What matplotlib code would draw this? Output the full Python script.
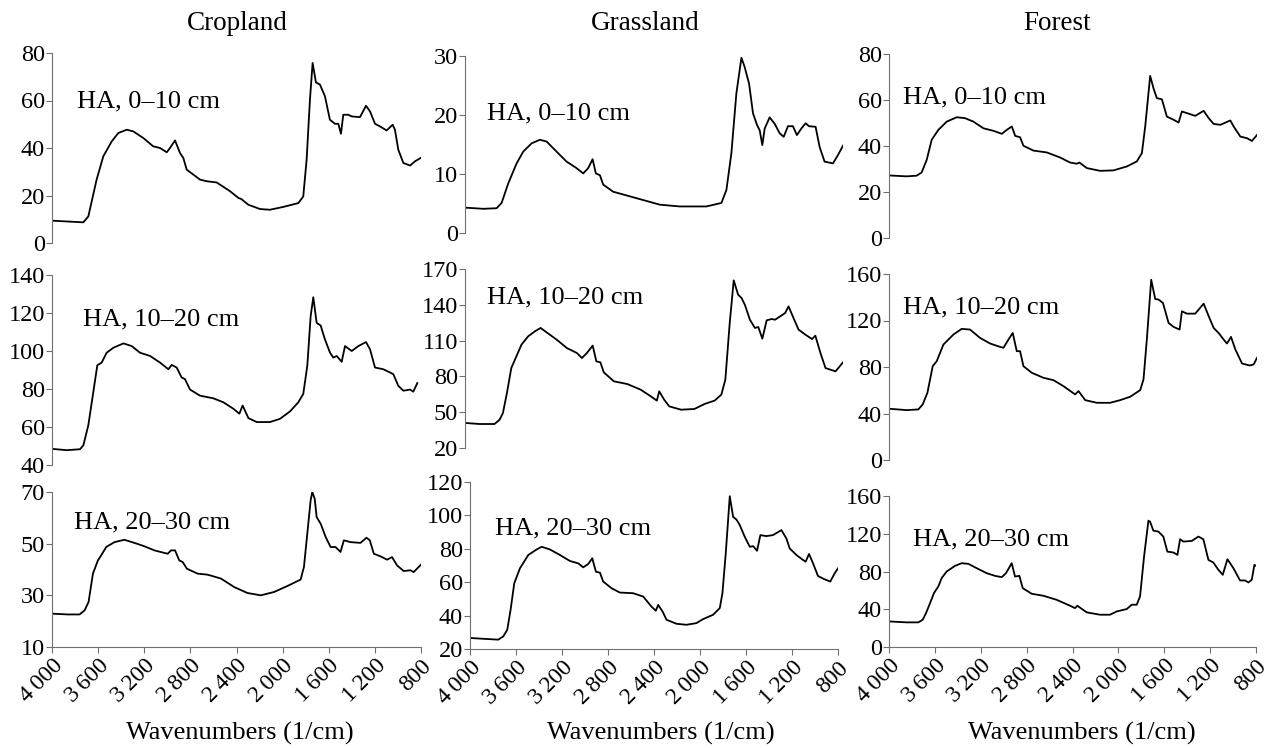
import matplotlib
matplotlib.use("Agg")
import matplotlib.pyplot as plt

plt.rcParams['font.family'] = ['Liberation Serif', 'DejaVu Serif']

# FTIR spectra of humic acids (wavenumber in 1/cm, intensity)
crop_0_10_wn = [4000, 3728, 3685, 3613, 3555, 3482, 3425, 3352, 3295, 3208,
                3122, 3063, 3005, 2977, 2933, 2890, 2861, 2832, 2717, 2659,
                2572, 2456, 2384, 2358, 2297, 2196, 2110, 1994, 1864, 1821,
                1792, 1763, 1740, 1711, 1676, 1633, 1590, 1546, 1517, 1494,
                1474, 1431, 1401, 1329, 1277, 1242, 1199, 1156, 1098, 1046,
                1026, 997, 953, 895, 852, 803]
crop_0_10 = [9.4, 8.7, 11.2, 26.7, 36.5, 42.8, 46.3, 47.7, 47.0, 44.2,
             40.7, 40.0, 38.2, 40.0, 43.2, 37.9, 35.8, 30.9, 26.7, 26.0,
             25.5, 21.8, 19.0, 18.5, 16.1, 14.3, 14.0, 15.2, 16.8, 19.6,
             35.0, 60.4, 75.8, 67.6, 66.7, 61.8, 51.9, 50.2, 50.2, 46.0,
             54.0, 54.0, 53.3, 53.0, 57.8, 55.4, 50.2, 49.1, 47.4, 49.8,
             47.7, 39.3, 33.7, 32.6, 34.4, 35.8]

crop_10_20_wn = [4000, 3873, 3757, 3728, 3685, 3642, 3607, 3569, 3526, 3468,
                 3381, 3309, 3237, 3150, 3063, 2991, 2962, 2919, 2876, 2847,
                 2803, 2717, 2601, 2514, 2427, 2375, 2347, 2297, 2225, 2110,
                 2023, 1936, 1864, 1821, 1786, 1757, 1734, 1705, 1670, 1633,
                 1589, 1560, 1531, 1488, 1459, 1401, 1343, 1277, 1242, 1199,
                 1127, 1069, 1040, 997, 953, 895, 867, 832]
crop_10_20 = [48.5, 47.8, 48.3, 50.4, 60.9, 78.3, 92.5, 93.9, 99.1, 101.7,
              104.0, 102.6, 99.1, 97.4, 93.9, 90.4, 92.7, 91.3, 86.1, 85.2,
              79.7, 76.5, 75.1, 73.0, 69.6, 67.0, 71.3, 64.7, 62.6, 62.6,
              64.3, 68.2, 73.0, 77.4, 92.2, 118.3, 128.3, 114.8, 113.4, 106.1,
              99.1, 96.5, 97.4, 94.3, 102.6, 100.0, 102.6, 104.7, 100.9, 91.3,
              90.4, 88.7, 87.8, 81.7, 79.1, 79.7, 78.6, 83.1]

crop_20_30_wn = [4000, 3862, 3761, 3717, 3683, 3645, 3602, 3573, 3530, 3458,
                 3372, 3285, 3199, 3112, 2997, 2968, 2933, 2896, 2867, 2830,
                 2737, 2651, 2535, 2420, 2305, 2189, 2074, 1959, 1844, 1815,
                 1786, 1757, 1743, 1722, 1705, 1670, 1627, 1584, 1541, 1498,
                 1469, 1411, 1325, 1273, 1244, 1209, 1152, 1094, 1051, 1008,
                 950, 892, 863, 800]
crop_20_30 = [22.9, 22.6, 22.6, 24.2, 27.4, 38.4, 43.5, 45.5, 48.7, 50.6,
              51.5, 50.3, 49.0, 47.4, 46.1, 47.4, 47.4, 43.5, 42.9, 40.3,
              38.4, 38.0, 36.5, 33.2, 30.9, 30.0, 31.3, 33.6, 36.1, 41.0,
              53.9, 66.8, 70.0, 67.4, 60.3, 57.7, 52.6, 48.7, 48.7, 46.8,
              51.3, 50.6, 50.3, 52.3, 51.3, 46.1, 45.1, 43.8, 44.8, 41.6,
              39.4, 39.7, 39.0, 41.9]

grass_0_10_wn = [4000, 3845, 3732, 3690, 3634, 3563, 3507, 3436, 3366, 3309,
                 3225, 3140, 3056, 2999, 2957, 2920, 2892, 2858, 2830, 2746,
                 2548, 2351, 2182, 1956, 1829, 1787, 1745, 1703, 1660, 1632,
                 1595, 1562, 1528, 1505, 1483, 1463, 1421, 1378, 1336, 1302,
                 1266, 1224, 1190, 1153, 1116, 1088, 1032, 998, 956, 885,
                 843, 800]
grass_0_10 = [4.3, 4.1, 4.2, 5.1, 8.4, 11.8, 13.8, 15.2, 15.8, 15.5,
              13.8, 12.1, 11.0, 10.1, 11.0, 12.5, 10.1, 9.8, 8.2, 7.0,
              5.9, 4.8, 4.5, 4.5, 5.1, 7.3, 13.5, 23.6, 29.7, 28.1,
              25.3, 20.3, 18.3, 17.4, 14.9, 17.7, 19.6, 18.5, 16.9, 16.3,
              18.1, 18.1, 16.6, 17.7, 18.6, 18.1, 18.0, 14.6, 12.1, 11.8,
              13.2, 14.8]

grass_10_20_wn = [4000, 3878, 3750, 3707, 3679, 3645, 3608, 3565, 3522, 3465,
                  3408, 3360, 3309, 3224, 3138, 3053, 3010, 2968, 2919, 2888,
                  2854, 2825, 2740, 2626, 2513, 2427, 2376, 2356, 2314, 2271,
                  2171, 2058, 1972, 1887, 1830, 1796, 1759, 1725, 1688, 1659,
                  1631, 1588, 1546, 1517, 1483, 1446, 1404, 1375, 1332, 1290,
                  1261, 1219, 1176, 1119, 1062, 1034, 991, 948, 906, 863,
                  800]
grass_10_20 = [41.0, 40.1, 40.1, 43.7, 49.3, 66.1, 87.0, 96.8, 106.6, 113.6,
               117.8, 120.6, 116.9, 110.8, 103.8, 99.6, 95.4, 99.6, 105.8, 92.6,
               91.8, 83.4, 75.9, 73.6, 68.9, 63.3, 59.7, 67.5, 60.5, 54.9,
               52.1, 52.7, 56.9, 59.7, 64.7, 77.3, 124.7, 160.5, 148.5, 145.7,
               140.1, 127.5, 120.6, 121.4, 111.6, 127.0, 128.1, 127.5, 130.3, 133.1,
               138.7, 128.9, 119.2, 115.0, 111.3, 114.1, 99.6, 87.0, 85.6, 84.2,
               91.8]

grass_20_30_wn = [4000, 3855, 3754, 3710, 3676, 3647, 3615, 3566, 3493, 3421,
                  3377, 3305, 3218, 3131, 3059, 3015, 2972, 2937, 2905, 2870,
                  2842, 2769, 2697, 2581, 2494, 2422, 2384, 2364, 2326, 2291,
                  2204, 2118, 2031, 1973, 1886, 1828, 1805, 1776, 1741, 1712,
                  1683, 1654, 1611, 1567, 1538, 1504, 1475, 1423, 1365, 1292,
                  1249, 1220, 1162, 1104, 1081, 1052, 1017, 974, 916, 867,
                  829, 800]
grass_20_30 = [26.6, 26.0, 25.6, 27.6, 31.5, 43.5, 59.4, 68.3, 76.3, 79.6,
               81.2, 79.6, 76.3, 72.7, 71.3, 68.9, 70.9, 74.3, 66.3, 65.7,
               60.4, 56.4, 53.8, 53.4, 51.4, 45.4, 42.9, 46.4, 42.5, 37.5,
               35.1, 34.5, 35.5, 37.9, 40.5, 44.5, 53.4, 77.3, 111.5, 99.1,
               97.5, 94.2, 87.2, 81.2, 81.6, 78.8, 88.2, 87.6, 88.2, 91.2,
               86.2, 80.2, 76.3, 73.3, 72.3, 76.9, 71.3, 63.7, 61.7, 60.4,
               65.3, 68.3]

forest_0_10_wn = [4000, 3846, 3759, 3716, 3672, 3629, 3571, 3498, 3411, 3339,
                  3266, 3179, 3092, 3019, 2976, 2932, 2903, 2860, 2831, 2744,
                  2628, 2512, 2425, 2367, 2344, 2280, 2164, 2048, 1932, 1845,
                  1801, 1772, 1729, 1700, 1671, 1627, 1584, 1525, 1482, 1453,
                  1409, 1337, 1264, 1220, 1177, 1119, 1032, 1003, 945, 887,
                  844, 800]
forest_0_10 = [27.2, 26.8, 27.1, 28.5, 34.0, 42.7, 47.0, 50.6, 52.5, 52.1,
               50.6, 47.7, 46.6, 45.3, 47.0, 48.5, 44.4, 43.8, 40.1, 38.0,
               37.2, 35.0, 32.8, 32.3, 32.8, 30.4, 29.2, 29.4, 31.1, 33.3,
               36.9, 48.5, 70.5, 65.1, 60.8, 60.3, 52.8, 51.4, 50.2, 55.0,
               54.3, 53.1, 55.3, 52.1, 49.6, 49.2, 51.1, 48.5, 44.1, 43.4,
               42.2, 44.8]

forest_10_20_wn = [4000, 3846, 3745, 3707, 3666, 3620, 3585, 3527, 3440, 3368,
                   3295, 3208, 3121, 3034, 3005, 2961, 2924, 2889, 2860, 2831,
                   2758, 2657, 2570, 2483, 2381, 2352, 2294, 2193, 2077, 1990,
                   1903, 1816, 1787, 1758, 1720, 1685, 1656, 1618, 1569, 1525,
                   1473, 1453, 1409, 1337, 1264, 1220, 1177, 1134, 1090, 1061,
                   1026, 988, 930, 864, 829, 800]
forest_10_20 = [44.1, 42.9, 43.5, 47.8, 57.8, 80.7, 85.0, 99.3, 107.9, 112.8,
                112.2, 105.0, 100.2, 97.3, 96.5, 103.6, 109.3, 93.6, 93.6, 80.7,
                75.0, 70.7, 68.7, 63.5, 56.4, 59.3, 51.5, 49.2, 49.2, 51.5,
                54.4, 60.1, 69.3, 103.6, 155.1, 138.5, 138.0, 135.1, 117.9, 114.5,
                112.2, 127.9, 125.9, 125.9, 134.5, 123.7, 113.6, 109.3, 103.6, 100.2,
                105.9, 95.0, 83.0, 81.3, 82.2, 87.9]

forest_20_30_wn = [4000, 3846, 3744, 3706, 3677, 3642, 3608, 3570, 3541, 3497,
                   3424, 3366, 3308, 3235, 3148, 3076, 3017, 2980, 2930, 2901,
                   2863, 2834, 2756, 2654, 2538, 2421, 2378, 2358, 2276, 2160,
                   2073, 2014, 1927, 1884, 1840, 1811, 1776, 1738, 1724, 1695,
                   1651, 1608, 1573, 1520, 1485, 1462, 1433, 1360, 1302, 1259,
                   1215, 1172, 1128, 1090, 1049, 997, 939, 895, 866, 837,
                   814, 800]
forest_20_30 = [27.1, 26.1, 26.1, 28.9, 36.0, 46.5, 57.1, 64.1, 73.0, 80.0,
                86.0, 88.8, 88.1, 83.5, 78.2, 75.4, 74.0, 78.2, 88.8, 74.7,
                75.4, 62.4, 56.4, 54.3, 50.0, 43.7, 41.2, 43.7, 36.7, 34.2,
                34.2, 37.7, 40.2, 44.8, 44.8, 53.6, 95.9, 133.9, 132.9, 123.3,
                122.3, 117.0, 101.1, 100.1, 97.6, 114.2, 111.7, 112.4, 117.0, 114.2,
                92.3, 89.5, 81.8, 76.5, 93.0, 83.5, 70.5, 70.5, 68.4, 71.2,
                87.0, 86.0]

land_uses = ['Cropland', 'Grassland', 'Forest']
depths = ['HA, 0\u201310 cm', 'HA, 10\u201320 cm', 'HA, 20\u201330 cm']
x_ticks = [4000, 3600, 3200, 2800, 2400, 2000, 1600, 1200, 800]
x_tick_labels = ['4\u2009000', '3\u2009600', '3\u2009200', '2\u2009800', '2\u2009400',
                 '2\u2009000', '1\u2009600', '1\u2009200', '800']

spectra = [
    [(crop_0_10_wn, crop_0_10), (grass_0_10_wn, grass_0_10), (forest_0_10_wn, forest_0_10)],
    [(crop_10_20_wn, crop_10_20), (grass_10_20_wn, grass_10_20), (forest_10_20_wn, forest_10_20)],
    [(crop_20_30_wn, crop_20_30), (grass_20_30_wn, grass_20_30), (forest_20_30_wn, forest_20_30)],
]
y_ticks = [
    [[0, 20, 40, 60, 80], [0, 10, 20, 30], [0, 20, 40, 60, 80]],
    [[40, 60, 80, 100, 120, 140], [20, 50, 80, 110, 140, 170], [0, 40, 80, 120, 160]],
    [[10, 30, 50, 70], [20, 40, 60, 80, 100, 120], [0, 40, 80, 120, 160]],
]

# axes boxes in pixels: left, right, top, bottom
boxes = [
    [(52, 421, 53, 243), (465, 843, 56, 233), (889, 1257, 54, 238)],
    [(52, 421, 275, 465), (465, 843, 269, 448), (889, 1257, 274, 460)],
    [(52, 421, 492, 647), (470, 838, 482, 649), (889, 1256, 496, 647)],
]
# label position inside each axes (axes fraction)
label_pos = [
    [(0.068, 0.747), (0.057, 0.678), (0.038, 0.764)],
    [(0.084, 0.768), (0.057, 0.841), (0.038, 0.820)],
    [(0.060, 0.803), (0.068, 0.719), (0.065, 0.715)],
]

W, H = 1267, 748
fig = plt.figure(figsize=(W / 100, H / 100), dpi=100)
spine_col = '#707070'

for r in range(3):
    for c in range(3):
        l, rt, t, b = boxes[r][c]
        ax = fig.add_axes([l / W, 1 - b / H, (rt - l) / W, (b - t) / H])
        wn, vals = spectra[r][c]
        ax.plot(wn, vals, color='black', lw=1.3)
        ax.set_xlim(4000, 800)
        yt = y_ticks[r][c]
        ax.set_ylim(yt[0], yt[-1])
        ax.set_yticks(yt)
        ax.spines['top'].set_visible(False)
        ax.spines['right'].set_visible(False)
        ax.spines['left'].set_color(spine_col)
        ax.spines['left'].set_linewidth(0.8)
        ax.tick_params(axis='y', direction='out', length=4, width=0.8,
                       color=spine_col, labelsize=17.5, pad=1)
        if r == 2:
            ax.spines['bottom'].set_color(spine_col)
            ax.spines['bottom'].set_linewidth(0.8)
            ax.set_xticks(x_ticks)
            ax.set_xticklabels(x_tick_labels, rotation=45, ha='right',
                               rotation_mode='anchor')
            ax.tick_params(axis='x', direction='out', length=4, width=0.8,
                           color=spine_col, labelsize=17, pad=2)
        else:
            ax.spines['bottom'].set_visible(False)
            ax.set_xticks([])
        lx, ly = label_pos[r][c]
        ax.text(lx, ly, depths[r], transform=ax.transAxes, fontsize=19,
                va='center', ha='left')

title_x = [237, 645, 1057]
xlabel_x = [240, 661, 1082]
for c in range(3):
    fig.text(title_x[c] / W, 1 - 23 / H, land_uses[c], fontsize=19.5,
             ha='center', va='center')
    fig.text(xlabel_x[c] / W, 1 - 733 / H, 'Wavenumbers (1/cm)', fontsize=19,
             ha='center', va='center')

fig.savefig('out.png', dpi=100)
